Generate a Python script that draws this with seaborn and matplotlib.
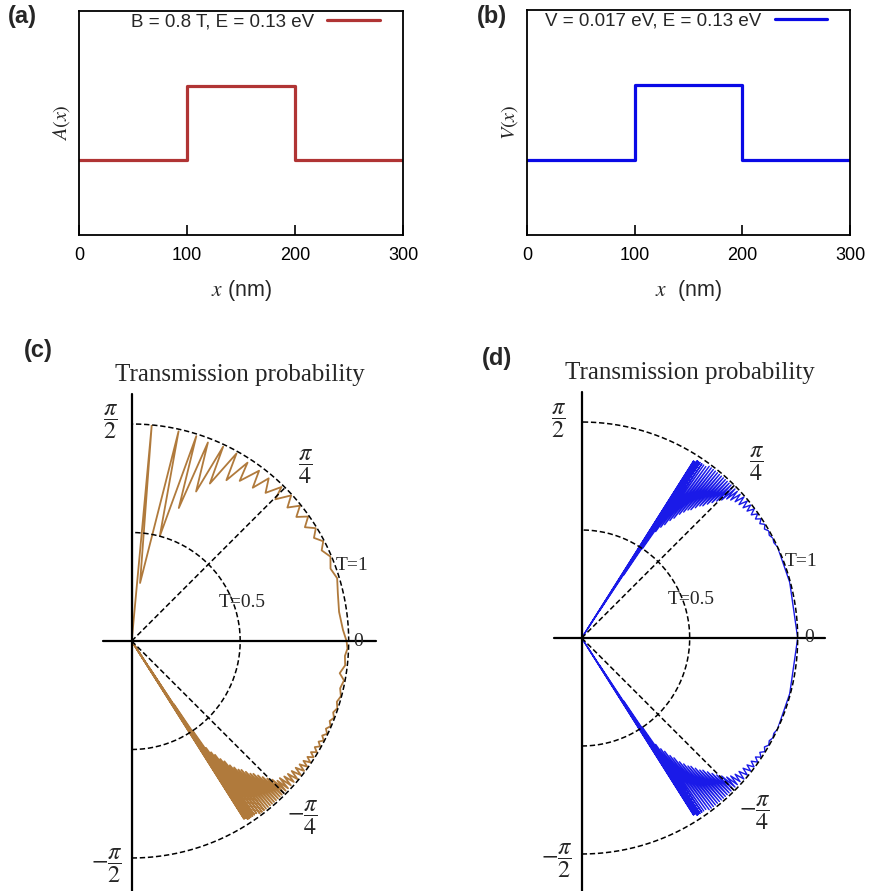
import numpy as np
import matplotlib
matplotlib.use('Agg')
import matplotlib.pyplot as plt
import seaborn as sns

# (a), (b): step profiles of A(x) and V(x)
x_nm = [0, 100, 200, 300]
A_profile = [1, 2, 1, 1]
V_profile = [1, 2, 1, 1]
x_ticks = [0, 100, 200, 300]
A_label = 'B = 0.8 T, E = 0.13 eV'
V_label = 'V = 0.017 eV, E = 0.13 eV'

# (c): transmission T vs incidence angle (degrees)
c_angle = [-60.0, -58.0, -57.7, -57.5, -57.3, -57.1, -56.9, -56.7, -56.5, -56.3,
           -56.0, -55.8, -55.4, -55.2, -54.8, -54.5, -54.1, -53.8, -53.4, -53.1,
           -52.7, -52.4, -52.0, -51.7, -51.3, -51.0, -50.6, -50.3, -49.9, -49.6,
           -49.2, -48.9, -48.5, -48.2, -47.8, -47.5, -47.1, -46.8, -46.4, -46.1,
           -45.7, -45.4, -45.0, -44.6, -44.2, -43.8, -43.3, -42.8, -42.2, -41.6,
           -41.0, -40.4, -39.8, -39.1, -38.4, -37.7, -37.0, -36.3, -35.6, -34.9,
           -34.2, -33.4, -32.6, -31.8, -31.0, -30.1, -29.2, -28.3, -27.4, -26.4,
           -25.4, -24.3, -23.2, -22.0, -20.8, -19.5, -18.1, -16.5, -14.8, -12.8,
           -10.5, -8.8, -6.5, -4.0, -2.0, 0.0, 3.0, 8.0, 13.0, 17.0,
           20.0, 23.0, 25.5, 27.5, 29.5, 31.5, 33.3, 35.2, 37.0, 38.8,
           40.6, 42.4, 44.6, 45.8, 47.9, 49.9, 51.7, 53.2, 56.0, 57.0,
           59.5, 60.8, 63.6, 64.8, 66.7, 69.0, 70.5, 72.5, 75.0, 77.4,
           81.8, 84.7, 90.0]
c_T = [0.0, 0.0, 0.97, 0.02, 0.97, 0.05, 0.98, 0.15, 0.98, 0.35,
       0.98, 0.50, 0.98, 0.60, 0.98, 0.63, 0.98, 0.65, 0.99, 0.68,
       0.99, 0.70, 0.99, 0.73, 0.99, 0.75, 0.99, 0.77, 0.99, 0.78,
       0.99, 0.80, 0.99, 0.82, 0.99, 0.83, 0.99, 0.85, 0.99, 0.87,
       0.99, 0.89, 0.99, 0.91, 0.99, 0.93, 0.99, 0.93, 0.99, 0.94,
       0.99, 0.945, 0.995, 0.95, 0.995, 0.955, 0.995, 0.96, 0.995, 0.965,
       0.995, 0.97, 0.995, 0.972, 0.995, 0.975, 0.995, 0.978, 0.997, 0.98,
       0.997, 0.982, 0.997, 0.984, 0.997, 0.985, 0.997, 0.986, 0.997, 0.985,
       0.995, 0.97, 0.99, 0.985, 0.995, 0.99, 0.975, 0.965, 0.975, 0.99,
       0.975, 0.995, 0.97, 0.995, 0.965, 0.995, 0.955, 0.995, 0.95, 0.995,
       0.945, 0.995, 0.93, 0.99, 0.92, 0.98, 0.90, 0.98, 0.89, 0.98,
       0.86, 0.99, 0.81, 0.99, 0.75, 0.98, 0.65, 0.99, 0.50, 0.99,
       0.27, 1.0, 0.0]

# (d): same quantity for the electric barrier
d_angle = [-60.0, -58.0, -57.7, -57.5, -57.3, -57.1, -56.9, -56.7, -56.5, -56.3,
           -56.0, -55.8, -55.4, -55.2, -54.8, -54.5, -54.1, -53.8, -53.4, -53.1,
           -52.7, -52.4, -52.0, -51.7, -51.3, -51.0, -50.6, -50.3, -49.9, -49.6,
           -49.2, -48.9, -48.5, -48.2, -47.8, -47.5, -47.1, -46.8, -46.4, -46.1,
           -45.7, -45.4, -45.0, -44.6, -44.2, -43.8, -43.3, -42.8, -42.2, -41.6,
           -41.0, -40.3, -39.6, -38.9, -38.2, -37.5, -36.8, -36.0, -35.2, -34.4,
           -33.6, -32.7, -31.8, -30.8, -29.8, -28.7, -27.6, -26.4, -25.0, -15.0,
           0.0, 15.0, 25.0, 26.4, 27.6, 28.7, 29.8, 30.8, 31.8, 32.7,
           33.6, 34.4, 35.2, 36.0, 36.8, 37.5, 38.2, 38.9, 39.6, 40.3,
           41.0, 41.6, 42.2, 42.8, 43.3, 43.8, 44.2, 44.6, 45.0, 45.4,
           45.7, 46.1, 46.4, 46.8, 47.1, 47.5, 47.8, 48.2, 48.5, 48.9,
           49.2, 49.6, 49.9, 50.3, 50.6, 51.0, 51.3, 51.7, 52.0, 52.4,
           52.7, 53.1, 53.4, 53.8, 54.1, 54.5, 54.8, 55.2, 55.4, 55.8,
           56.0, 56.3, 56.5, 56.7, 56.9, 57.1, 57.3, 57.5, 57.7, 58.0,
           60.0]
d_T = [0.0, 0.0, 0.97, 0.02, 0.97, 0.05, 0.98, 0.15, 0.98, 0.35,
       0.98, 0.50, 0.98, 0.60, 0.98, 0.63, 0.98, 0.65, 0.99, 0.68,
       0.99, 0.70, 0.99, 0.73, 0.99, 0.75, 0.99, 0.77, 0.99, 0.78,
       0.99, 0.80, 0.99, 0.82, 0.99, 0.83, 0.99, 0.85, 0.99, 0.87,
       0.99, 0.89, 0.99, 0.91, 0.99, 0.93, 0.99, 0.94, 0.99, 0.95,
       0.995, 0.955, 0.995, 0.96, 0.995, 0.965, 0.997, 0.97, 0.997, 0.975,
       0.997, 0.98, 0.998, 0.985, 0.998, 0.99, 0.999, 0.993, 1.0, 0.997,
       1.0, 0.997, 1.0, 0.993, 0.999, 0.99, 0.998, 0.985, 0.998, 0.98,
       0.997, 0.975, 0.997, 0.97, 0.997, 0.965, 0.995, 0.96, 0.995, 0.955,
       0.995, 0.95, 0.99, 0.94, 0.99, 0.93, 0.99, 0.91, 0.99, 0.89,
       0.99, 0.87, 0.99, 0.85, 0.99, 0.83, 0.99, 0.82, 0.99, 0.80,
       0.99, 0.78, 0.99, 0.77, 0.99, 0.75, 0.99, 0.73, 0.99, 0.70,
       0.99, 0.68, 0.99, 0.65, 0.98, 0.63, 0.98, 0.60, 0.98, 0.50,
       0.98, 0.35, 0.98, 0.15, 0.98, 0.05, 0.97, 0.02, 0.97, 0.0,
       0.0]

sns.set_style('white')
plt.rcParams['font.family'] = ['Liberation Sans', 'DejaVu Sans']
plt.rcParams['mathtext.fontset'] = 'stix'

W, H = 869, 891
fig = plt.figure(figsize=(W / 100, H / 100), dpi=100)
SERIF = 'Liberation Serif'


def px_rect(left, top, right, bottom):
    return [left / W, 1 - bottom / H, (right - left) / W, (bottom - top) / H]


def fig_text(x, y, s, **kw):
    fig.text(x / W, 1 - y / H, s, ha='center', va='center', **kw)


def profile_panel(rect, y, color, label, xlabel, ylabel, tag, tag_xy):
    ax = fig.add_axes(rect)
    sns.lineplot(x=x_nm, y=y, ax=ax, color=color, lw=2.3, drawstyle='steps-post',
                 label=label, estimator=None, sort=False)
    ax.set_xlim(0, 300)
    ax.set_ylim(0, 3)
    ax.set_xticks(x_ticks)
    ax.set_yticks([])
    ax.tick_params(axis='x', bottom=True, direction='in', length=7, width=1.2,
                   pad=9, labelsize=13, colors='black')
    for s in ax.spines.values():
        s.set_color('black')
        s.set_linewidth(1.3)
    ax.set_xlabel(xlabel, fontsize=15.5, labelpad=10)
    ax.set_ylabel(ylabel, fontsize=14.5, labelpad=5)
    ax.legend(loc='upper right', bbox_to_anchor=(0.929, 0.99), frameon=False,
              markerfirst=False, handlelength=2.8, handletextpad=0.7,
              fontsize=13.5, borderpad=0, borderaxespad=0)
    fig_text(*tag_xy, tag, fontsize=17, fontweight='bold')
    return ax


def transmission_panel(origin, R, ang, T, color, lw, labels, title_xy, tag, tag_xy):
    # a half-disc polar axes is centred inside a square box 2R wide
    ox, oy = origin
    rect = px_rect(ox - R / 2, oy - R, ox + 1.5 * R, oy + R)
    ax = fig.add_axes(rect, projection='polar')
    ax.set_thetamin(-90)
    ax.set_thetamax(90)
    ax.grid(False)
    ax.patch.set_visible(False)
    for s in ax.spines.values():
        s.set_visible(False)

    sns.lineplot(x=np.deg2rad(ang), y=T, ax=ax, color=color, lw=lw,
                 sort=False, estimator=None, zorder=2)

    arc = np.linspace(-np.pi / 2, np.pi / 2, 181)
    dash = dict(color='black', lw=1.1, ls=(0, (3.5, 1.8)), clip_on=False, zorder=3)
    for r in (0.5, 1.0):
        ax.plot(arc, np.full_like(arc, r), **dash)
    for q in (np.pi / 4, -np.pi / 4):
        ax.plot([q, q], [0, 1], **dash)
    axis = dict(color='black', lw=1.6, clip_on=False, zorder=4)
    ax.plot([np.pi / 2, np.pi / 2], [0, 1.14], **axis)
    ax.plot([-np.pi / 2, -np.pi / 2], [0, 1.3], **axis)
    ax.plot([0, 0], [0, 1.125], **axis)
    ax.plot([np.pi, np.pi], [0, 0.13], **axis)

    ax.set_rlim(0, 1)
    ax.set_xticks([])
    ax.set_yticks([])
    ax.set_xlabel('')
    ax.set_ylabel('')

    for th, r, s, fs in labels:
        ax.text(np.deg2rad(th), r, s, ha='center', va='center', fontsize=fs,
                family=SERIF, zorder=5)
    fig_text(*title_xy, 'Transmission probability', fontsize=18, family=SERIF)
    fig_text(*tag_xy, tag, fontsize=17, fontweight='bold')
    return ax


profile_panel(px_rect(79, 11, 403, 235), A_profile, '#B03434', A_label,
              r'$x$ (nm)', r'$A(x)$', '(a)', (22, 16))
profile_panel(px_rect(527, 10, 850, 235), V_profile, '#0A0AE6', V_label,
              r'$x$  (nm)', r'$V(x)$', '(b)', (492, 17))

frac = r'$\dfrac{\pi}{%d}$'
mfrac = r'$-\dfrac{\pi}{%d}$'
FS = 17.5
c_labels = [(95.65, 1.015, frac % 2, FS), (45.2, 1.135, frac % 4, FS),
            (19.0, 1.074, 'T=1', 14), (19.2, 0.537, 'T=0.5', 14),
            (0.0, 1.044, '0', 14), (-45.9, 1.131, mfrac % 4, FS),
            (-96.3, 1.041, mfrac % 2, FS)]
d_labels = [(96.1, 1.011, frac % 2, FS), (45.0, 1.143, frac % 4, FS),
            (19.2, 1.075, 'T=1', 14), (19.4, 0.539, 'T=0.5', 14),
            (0.0, 1.054, '0', 14), (-45.35, 1.138, mfrac % 4, FS),
            (-96.4, 1.036, mfrac % 2, FS)]

transmission_panel((131.7, 641), 217, c_angle, c_T, '#B07A3C', 1.3,
                   c_labels, (240, 375), '(c)', (38, 351))
transmission_panel((581.7, 638), 216, d_angle, d_T, '#1A1AE8', 1.0,
                   d_labels, (690, 373), '(d)', (497, 358))

fig.savefig('out.png', dpi=100)
